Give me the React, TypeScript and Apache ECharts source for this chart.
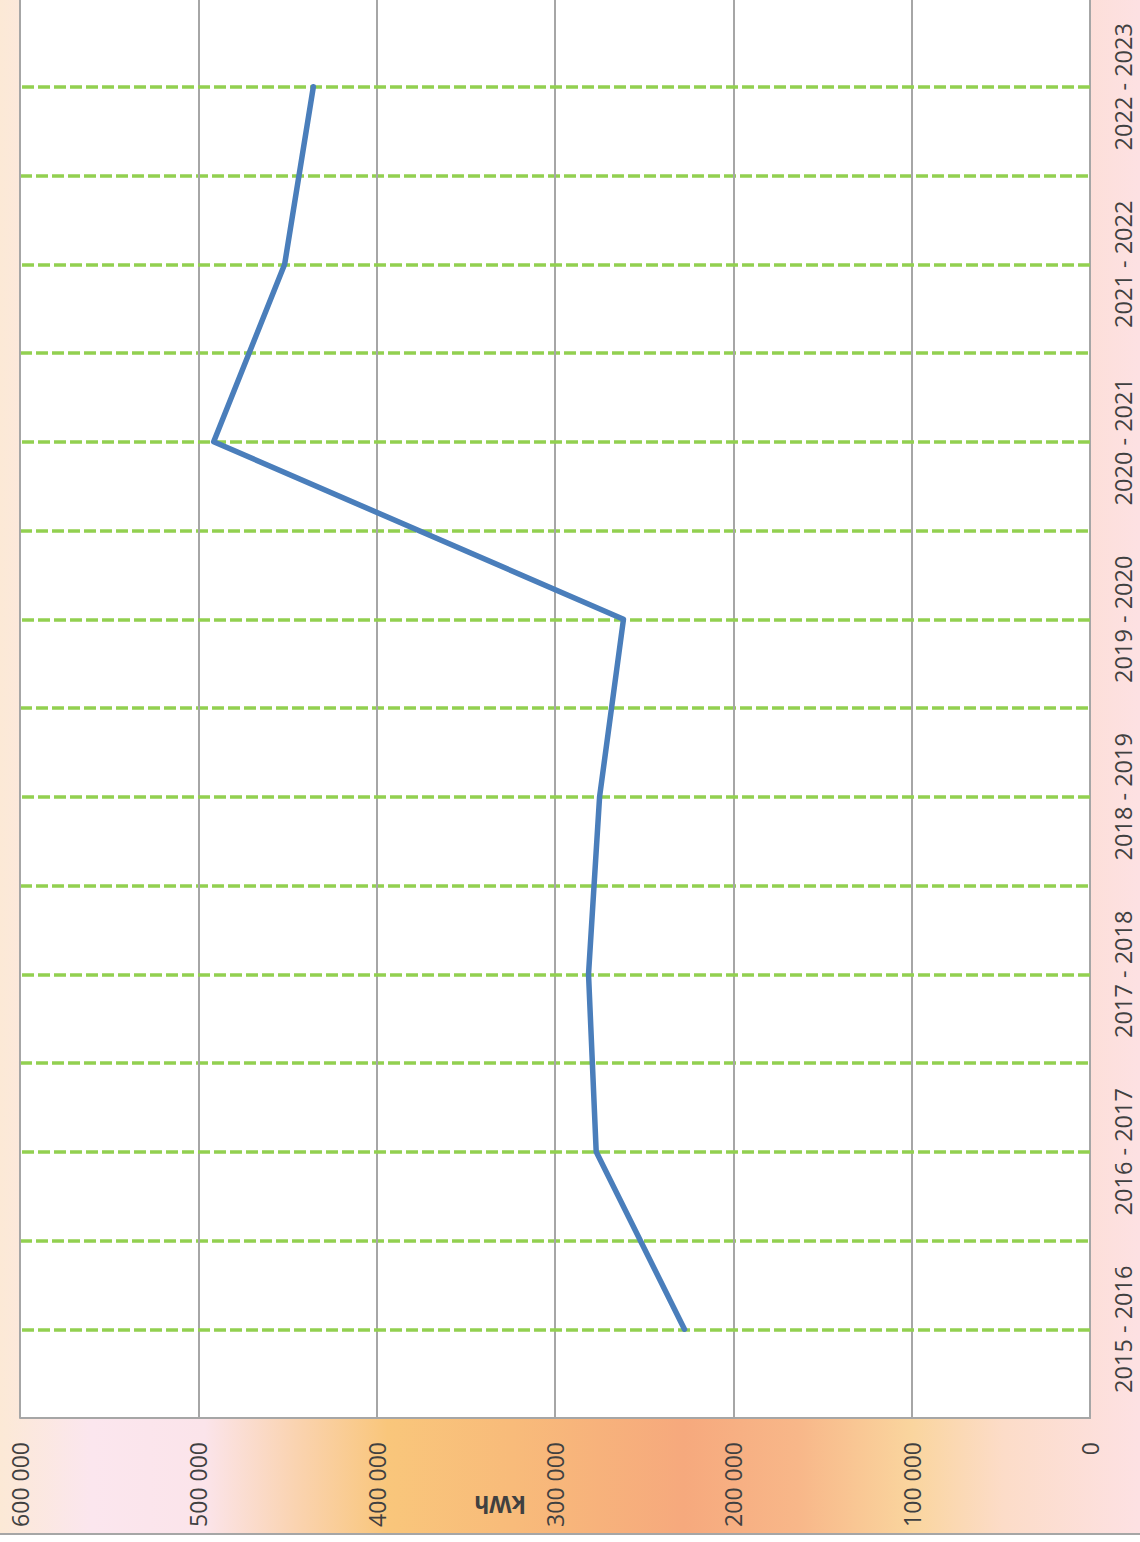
import React, { useEffect, useRef } from 'react';
import * as echarts from 'echarts';

// Categories (heating seasons), bottom to top
const categories = [
  '2015 - 2016',
  '2016 - 2017',
  '2017 - 2018',
  '2018 - 2019',
  '2019 - 2020',
  '2020 - 2021',
  '2021 - 2022',
  '2022 - 2023',
];

// Consumption in kWh
const consumption = [227400, 276900, 281200, 275000, 261600, 491400, 451600, 435500];

// Value axis ticks
const valueMin = 0;
const valueMax = 600000;
const valueInterval = 100000;

const axisTitle = 'kWh';

const TEXT = '#404040';
const GRID_GRAY = '#a6a6a6';
const GREEN = '#92d050';
const BLUE = '#4a7ebb';
const FONT = '"Open Sans", "Noto Sans", sans-serif';

const fmt = (v: number) => String(v).replace(/\B(?=(\d{3})+(?!\d))/g, ' ');

export default function App() {
  const ref = useRef<HTMLDivElement>(null);

  useEffect(() => {
    if (!ref.current) return;
    const chart = echarts.init(ref.current, null, { renderer: 'svg' });
    const greenDash = { color: GREEN, width: 3.5, type: [12, 4] as any };
    chart.setOption({
      animation: false,
      backgroundColor: 'transparent',
      grid: {
        left: 20,
        right: 50,
        top: -2,
        bottom: 115,
        show: true,
        backgroundColor: '#ffffff',
        borderWidth: 0,
        containLabel: false,
        outerBoundsMode: 'none',
      },
      xAxis: {
        type: 'value',
        inverse: true,
        position: 'bottom',
        min: valueMin,
        max: valueMax,
        interval: valueInterval,
        axisLine: { show: true, onZero: false, lineStyle: { color: GRID_GRAY, width: 2 } },
        axisTick: { show: false },
        splitLine: { show: true, lineStyle: { color: GRID_GRAY, width: 2 } },
        axisLabel: {
          rotate: 90,
          margin: 24,
          color: TEXT,
          fontSize: 23,
          fontFamily: FONT,
          formatter: (v: number) => fmt(v),
        },
      },
      yAxis: {
        type: 'category',
        data: categories,
        position: 'right',
        boundaryGap: true,
        axisLine: { show: true, onZero: false, lineStyle: { color: GRID_GRAY, width: 2 } },
        axisTick: { show: false },
        splitLine: { show: true, interval: 0, showMinLine: false, lineStyle: greenDash },
        axisLabel: {
          rotate: 90,
          interval: 0,
          align: 'center',
          verticalAlign: 'middle',
          margin: 33,
          color: TEXT,
          fontSize: 23.5,
          fontFamily: FONT,
        },
      },
      graphic: [
        {
          type: 'text',
          x: 500,
          y: 1505,
          rotation: Math.PI,
          silent: true,
          style: {
            text: axisTitle,
            fill: TEXT,
            font: `bold 23px ${FONT}`,
            textAlign: 'center',
            textVerticalAlign: 'middle',
            verticalAlign: 'middle',
          } as any,
        },
      ],
      series: [
        {
          type: 'line',
          data: consumption,
          symbol: 'none',
          showSymbol: false,
          z: 5,
          lineStyle: { color: BLUE, width: 5.5, cap: 'round', join: 'round' },
          emphasis: { disabled: true },
          markLine: {
            silent: true,
            z: 1,
            symbol: ['none', 'none'],
            label: { show: false },
            lineStyle: greenDash,
            emphasis: { disabled: true },
            data: categories.map((c) => ({ yAxis: c })),
          },
        },
      ],
    });
    return () => chart.dispose();
  }, []);

  return (
    <div
      style={{
        position: 'absolute',
        left: 0,
        top: 0,
        width: 1140,
        height: 1542,
        background: '#ffffff',
      }}
    >
      <div
        style={{
          width: 1140,
          height: 1533,
          borderBottom: `2px solid ${GRID_GRAY}`,
          background:
            'linear-gradient(to right, #fce9d6 0%, #fbe6ee 8%, #fbe4ea 18%, #fad3b0 26%, #f9c67b 34%, #f8bb7a 45%, #f6a97d 60%, #f8b789 70%, #fad59e 80%, #fcdcc8 88%, #fde1e3 100%)',
        }}
      >
        <div ref={ref} style={{ width: 1140, height: 1533 }} />
      </div>
    </div>
  );
}
